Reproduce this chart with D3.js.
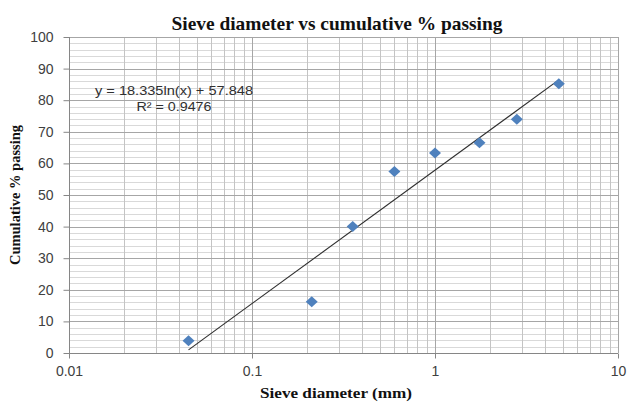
<!DOCTYPE html>
<html><head><meta charset="utf-8">
<script src="https://cdn.jsdelivr.net/npm/d3@7"></script>
<style>body{margin:0;background:#fff}svg{display:block}</style>
</head><body>
<script>
const sieveDiameter = [0.045, 0.212, 0.355, 0.6, 1.0, 1.75, 2.8, 4.75];
const cumulativePassing = [3.9, 16.2, 40.0, 57.4, 63.3, 66.5, 74.0, 85.2];
const trendCoefficients = [18.335, 57.848]; // y = a ln(x) + b
const trendLabel = ["y = 18.335ln(x) + 57.848", "R² = 0.9476"];
const xTickValues = [0.01, 0.1, 1, 10];
const xTickLabels = ["0.01", "0.1", "1", "10"];
const yTickValues = [0, 10, 20, 30, 40, 50, 60, 70, 80, 90, 100];

const W = 628, H = 403;
const svg = d3.select("body").append("svg").attr("width", W).attr("height", H);

const x = d3.scaleLog().domain([0.01, 10]).range([69, 618]);
const y = d3.scaleLinear().domain([0, 100]).range([353, 37]);

const vMinor = [];
for (const d of [0.01, 0.1, 1]) for (let k = 2; k <= 9; k++) vMinor.push(d * k);
const yMinor = d3.range(0, 101, 2).filter(v => v % 10 !== 0);

const g = svg.append("g");
g.selectAll(".hmin").data(yMinor).join("line")
  .attr("x1", x(0.01)).attr("x2", x(10))
  .attr("y1", d => Math.round(y(d)) + 0.5).attr("y2", d => Math.round(y(d)) + 0.5)
  .attr("stroke", "#d9d9d9").attr("stroke-width", 1);
g.selectAll(".vmin").data(vMinor).join("line")
  .attr("x1", d => Math.round(x(d)) + 0.5).attr("x2", d => Math.round(x(d)) + 0.5)
  .attr("y1", y(100)).attr("y2", y(0))
  .attr("stroke", "#c4c4c4").attr("stroke-width", 1);
g.selectAll(".hmaj").data(yTickValues).join("line")
  .attr("x1", x(0.01)).attr("x2", x(10))
  .attr("y1", d => Math.round(y(d)) + 0.5).attr("y2", d => Math.round(y(d)) + 0.5)
  .attr("stroke", "#a6a6a6").attr("stroke-width", 1);
g.selectAll(".vmaj").data(xTickValues).join("line")
  .attr("x1", d => Math.round(x(d)) + 0.5).attr("x2", d => Math.round(x(d)) + 0.5)
  .attr("y1", y(100)).attr("y2", y(0))
  .attr("stroke", "#a6a6a6").attr("stroke-width", 1);

const xAxis = d3.axisBottom(x).tickValues(xTickValues)
  .tickFormat((d, i) => xTickLabels[i]).tickSize(5).tickPadding(8);
const yAxis = d3.axisLeft(y).tickValues(yTickValues).tickSize(6).tickPadding(10);

const ga = svg.append("g").attr("transform", `translate(0,${Math.round(y(0)) + 0.5})`).call(xAxis);
const gy = svg.append("g").attr("transform", `translate(${Math.round(x(0.01)) + 0.5},0)`).call(yAxis);
[ga, gy].forEach(a => {
  a.selectAll(".domain").attr("stroke", "#868686");
  a.selectAll(".tick line").attr("stroke", "#868686");
  a.selectAll("text").attr("fill", "#404040")
    .style("font-family", "'Liberation Sans', Arial, sans-serif").style("font-size", "14px");
});
gy.select(".domain").attr("d", `M-0,${y(100)}V${Math.round(y(0))+0.5}`);
ga.select(".domain").attr("d", `M${x(0.01)},0H${x(10)}`);

const [a, b] = trendCoefficients;
const xs = d3.extent(sieveDiameter);
svg.append("line")
  .attr("x1", x(xs[0])).attr("y1", y(a * Math.log(xs[0]) + b))
  .attr("x2", x(xs[1])).attr("y2", y(a * Math.log(xs[1]) + b))
  .attr("stroke", "#2e2e2e").attr("stroke-width", 1.1);

const pts = sieveDiameter.map((d, i) => [d, cumulativePassing[i]]);
svg.selectAll(".pt").data(pts).join("path")
  .attr("transform", d => `translate(${x(d[0])},${y(d[1])})`)
  .attr("d", "M0,-5.5L6,0L0,5.5L-6,0Z")
  .attr("fill", "#4F81BD");

svg.append("text").attr("x", 174).attr("y", 95).attr("text-anchor", "middle")
  .attr("textLength", 158).attr("lengthAdjust", "spacingAndGlyphs")
  .style("font-family", "'Liberation Sans', Arial, sans-serif").style("font-size", "13px")
  .attr("fill", "#303030").text(trendLabel[0]);
svg.append("text").attr("x", 174).attr("y", 111).attr("text-anchor", "middle")
  .attr("textLength", 75).attr("lengthAdjust", "spacingAndGlyphs")
  .style("font-family", "'Liberation Sans', Arial, sans-serif").style("font-size", "13px")
  .attr("fill", "#303030").text(trendLabel[1]);

const serif = "'Liberation Serif', 'Times New Roman', serif";
svg.append("text").attr("x", 337).attr("y", 30).attr("text-anchor", "middle")
  .attr("textLength", 331).attr("lengthAdjust", "spacingAndGlyphs")
  .style("font-family", serif).style("font-weight", "bold").style("font-size", "19px")
  .attr("fill", "#111").text("Sieve diameter vs cumulative % passing");
svg.append("text").attr("x", 336).attr("y", 398).attr("text-anchor", "middle")
  .attr("textLength", 152).attr("lengthAdjust", "spacingAndGlyphs")
  .style("font-family", serif).style("font-weight", "bold").style("font-size", "15px")
  .attr("fill", "#111").text("Sieve diameter (mm)");
svg.append("text").attr("transform", "translate(20,195) rotate(-90)").attr("text-anchor", "middle")
  .attr("textLength", 140).attr("lengthAdjust", "spacingAndGlyphs")
  .style("font-family", serif).style("font-weight", "bold").style("font-size", "15px")
  .attr("fill", "#111").text("Cumulative % passing");
</script>
</body></html>
